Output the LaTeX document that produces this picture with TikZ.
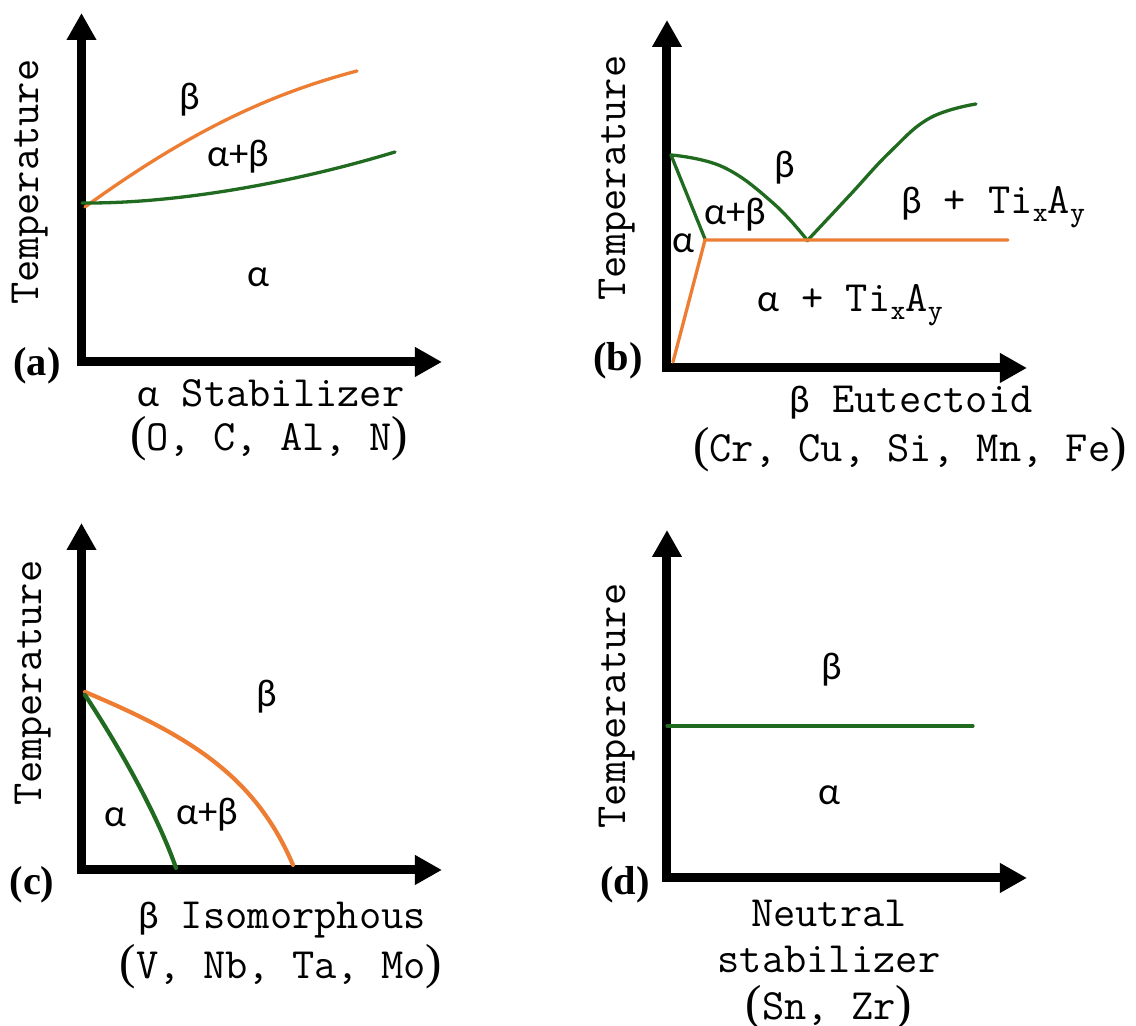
\documentclass[tikz,border=0pt]{standalone}
\usepackage{fontspec}
\setmainfont{Liberation Serif}
\newfontfamily\greekfont{Carlito}
\usetikzlibrary{arrows.meta}
\definecolor{lineA}{rgb}{0.13,0.42,0.13}
\definecolor{lineB}{rgb}{0.93,0.49,0.20}
\newcommand{\gk}[1]{{\greekfont\fontsize{11}{13}\selectfont #1}}
\newcommand{\pa}[1]{{\rmfamily\fontsize{14}{14}\selectfont #1}}
\newcommand{\sub}[1]{\raisebox{-0.45ex}{\fontsize{8}{9}\selectfont #1}}

\begin{document}
\begin{tikzpicture}[>={Triangle[length=0.27cm,width=0.28cm]}, line cap=round,
  axis/.style={line width=0.09cm, <->, line join=miter},
  curveA/.style={lineA, line width=0.033cm},
  curveB/.style={lineB, line width=0.033cm},
  phase/.style={font=\greekfont\fontsize{11}{13}\selectfont, inner sep=0pt},
  mono/.style={font=\ttfamily\fontsize{12.3}{14}\selectfont, inner sep=0pt},
  tag/.style={font=\bfseries\fontsize{11.5}{13}\selectfont, inner sep=0pt}]
\useasboundingbox (0,0) rectangle (11.36,10.26);
% ---------- (a) alpha stabilizer ----------
\draw[axis] (0.815,10.13) |- (4.42,6.64);
\draw[curveB] (0.85,8.19) .. controls (1.9,8.95) and (2.7,9.32) .. (3.57,9.55);
\draw[curveA] (0.82,8.23) .. controls (1.8,8.22) and (3.0,8.45) .. (3.95,8.74);
\node[phase] (bA) at (1.90,9.26) {β};
\node[phase] (abA) at (2.38,8.69) {α+β};
\node[phase] (aA) at (2.58,7.49) {α};
\node[tag] (tagA) at (0.37,6.60) {(a)};
\node[mono, rotate=90] (tempA) at (0.30,8.44) {Temperature};
\node[mono] (xA1) at (2.71,6.33) {\gk{α} Stabilizer};
\node[mono] (xA2) at (2.69,5.87) {\pa{(}O, C, Al, N\pa{)}};
% ---------- (b) beta eutectoid ----------
\draw[axis] (6.67,10.06) |- (10.27,6.58);
\draw[curveA] plot[smooth, tension=0.7] coordinates {(6.71,8.71) (7.23,8.59) (7.73,8.23) (8.07,7.86)};
\draw[curveA] (6.71,8.71) -- (7.05,7.87);
\draw[curveA] plot[smooth, tension=0.7] coordinates {(8.07,7.85) (8.50,8.31) (8.90,8.74) (9.30,9.08) (9.76,9.22)};
\draw[curveB] (6.73,6.64) -- (7.05,7.86) -- (10.08,7.86);
\node[phase] (bB) at (7.85,8.58) {β};
\node[phase] (abB) at (7.35,8.11) {α+β};
\node[phase] (aB) at (6.83,7.83) {α};
\node[mono] (bTi) at (9.93,8.19) {\gk{β} + Ti\sub{x}A\sub{y}};
\node[mono] (aTi) at (8.50,7.21) {\gk{α} + Ti\sub{x}A\sub{y}};
\node[tag] (tagB) at (6.18,6.65) {(b)};
\node[mono, rotate=90] (tempB) at (6.17,8.48) {Temperature};
\node[mono] (xB1) at (9.11,6.23) {\gk{β} Eutectoid};
\node[mono] (xB2) at (9.10,5.76) {\pa{(}Cr, Cu, Si, Mn, Fe\pa{)}};
% ---------- (c) beta isomorphous ----------
\draw[axis] (0.815,5.03) |- (4.42,1.56);
\draw[curveB, line width=0.042cm] (0.85,3.34) .. controls (1.9,2.9) and (2.55,2.5) .. (2.93,1.61);
\draw[curveA, line width=0.042cm] (0.85,3.31) .. controls (1.2,2.78) and (1.58,2.1) .. (1.76,1.58);
\node[phase] (bC) at (2.67,3.29) {β};
\node[phase] (aC) at (1.15,2.09) {α};
\node[phase] (abC) at (2.07,2.11) {α+β};
\node[tag] (tagC) at (0.32,1.41) {(c)};
\node[mono, rotate=90] (tempC) at (0.33,3.43) {Temperature};
\node[mono] (xC1) at (2.82,1.06) {\gk{β} Isomorphous};
\node[mono] (xC2) at (2.81,0.59) {\pa{(}V, Nb, Ta, Mo\pa{)}};
% ---------- (d) neutral ----------
\draw[axis] (6.67,4.96) |- (10.27,1.48);
\draw[curveA] (6.67,3.00) -- (9.73,3.00);
\node[phase] (bD) at (8.32,3.56) {β};
\node[phase] (aD) at (8.29,2.31) {α};
\node[tag] (tagD) at (6.25,1.41) {(d)};
\node[mono, rotate=90] (tempD) at (6.17,3.20) {Temperature};
\node[mono] (xD1) at (8.29,1.13) {Neutral};
\node[mono] (xD2) at (8.29,0.67) {stabilizer};
\node[mono] (xD3) at (8.29,0.18) {\pa{(}Sn, Zr\pa{)}};
\end{tikzpicture}
\end{document}
